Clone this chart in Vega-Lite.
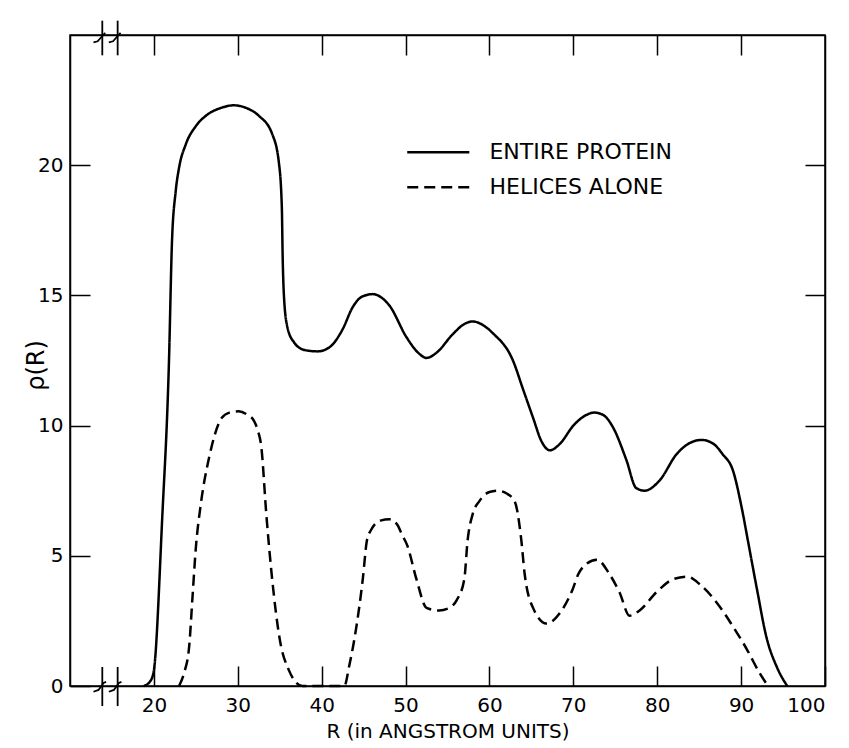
{
  "$schema": "https://vega.github.io/schema/vega-lite/v6.json",
  "width": 755,
  "height": 651,
  "autosize": {"type": "none"},
  "padding": {"left": 70, "top": 35, "right": 24, "bottom": 62},
  "background": "white",
  "config": {
    "view": {"stroke": "black", "strokeWidth": 1.5},
    "axis": {
      "grid": false,
      "domainColor": "black",
      "domainWidth": 1.5,
      "tickColor": "black",
      "tickWidth": 1.5,
      "labelColor": "black",
      "titleColor": "black",
      "labelFont": "DejaVu Sans",
      "titleFont": "DejaVu Sans",
      "titleFontWeight": "normal"
    }
  },
  "datasets": {
    "curves": [
      {"R": 18.8, "rho": 0, "series": "Entire protein"},
      {"R": 19.6, "rho": 0.2, "series": "Entire protein"},
      {"R": 20.0, "rho": 0.6, "series": "Entire protein"},
      {"R": 21.0, "rho": 6.5, "series": "Entire protein"},
      {"R": 21.8, "rho": 12.5, "series": "Entire protein"},
      {"R": 22.15, "rho": 17.0, "series": "Entire protein"},
      {"R": 22.6, "rho": 19.0, "series": "Entire protein"},
      {"R": 23.0, "rho": 19.9, "series": "Entire protein"},
      {"R": 23.8, "rho": 20.8, "series": "Entire protein"},
      {"R": 25.0, "rho": 21.5, "series": "Entire protein"},
      {"R": 26.2, "rho": 21.9, "series": "Entire protein"},
      {"R": 28.0, "rho": 22.2, "series": "Entire protein"},
      {"R": 29.5, "rho": 22.3, "series": "Entire protein"},
      {"R": 31.0, "rho": 22.2, "series": "Entire protein"},
      {"R": 32.5, "rho": 21.9, "series": "Entire protein"},
      {"R": 34.1, "rho": 21.2, "series": "Entire protein"},
      {"R": 34.9, "rho": 20.1, "series": "Entire protein"},
      {"R": 35.25, "rho": 18.4, "series": "Entire protein"},
      {"R": 35.35, "rho": 16.5, "series": "Entire protein"},
      {"R": 35.5, "rho": 15.0, "series": "Entire protein"},
      {"R": 35.9, "rho": 13.8, "series": "Entire protein"},
      {"R": 36.7, "rho": 13.2, "series": "Entire protein"},
      {"R": 38.0, "rho": 12.9, "series": "Entire protein"},
      {"R": 39.5, "rho": 12.85, "series": "Entire protein"},
      {"R": 40.9, "rho": 13.0, "series": "Entire protein"},
      {"R": 42.5, "rho": 13.7, "series": "Entire protein"},
      {"R": 43.7, "rho": 14.55, "series": "Entire protein"},
      {"R": 44.8, "rho": 14.95, "series": "Entire protein"},
      {"R": 46.1, "rho": 15.05, "series": "Entire protein"},
      {"R": 47.2, "rho": 14.9, "series": "Entire protein"},
      {"R": 48.1, "rho": 14.6, "series": "Entire protein"},
      {"R": 50.1, "rho": 13.4, "series": "Entire protein"},
      {"R": 51.5, "rho": 12.8, "series": "Entire protein"},
      {"R": 52.5, "rho": 12.6, "series": "Entire protein"},
      {"R": 53.7, "rho": 12.8, "series": "Entire protein"},
      {"R": 55.6, "rho": 13.5, "series": "Entire protein"},
      {"R": 57.0, "rho": 13.9, "series": "Entire protein"},
      {"R": 58.0, "rho": 14.0, "series": "Entire protein"},
      {"R": 59.5, "rho": 13.8, "series": "Entire protein"},
      {"R": 60.4, "rho": 13.55, "series": "Entire protein"},
      {"R": 62.8, "rho": 12.5, "series": "Entire protein"},
      {"R": 64.0, "rho": 11.4, "series": "Entire protein"},
      {"R": 65.2, "rho": 10.3, "series": "Entire protein"},
      {"R": 66.2, "rho": 9.4, "series": "Entire protein"},
      {"R": 67.2, "rho": 9.05, "series": "Entire protein"},
      {"R": 68.4, "rho": 9.3, "series": "Entire protein"},
      {"R": 70.0, "rho": 10.0, "series": "Entire protein"},
      {"R": 71.5, "rho": 10.4, "series": "Entire protein"},
      {"R": 72.5, "rho": 10.5, "series": "Entire protein"},
      {"R": 73.6, "rho": 10.4, "series": "Entire protein"},
      {"R": 74.7, "rho": 9.95, "series": "Entire protein"},
      {"R": 76.3, "rho": 8.7, "series": "Entire protein"},
      {"R": 77.5, "rho": 7.6, "series": "Entire protein"},
      {"R": 78.5, "rho": 7.5, "series": "Entire protein"},
      {"R": 80.3, "rho": 7.9, "series": "Entire protein"},
      {"R": 82.3, "rho": 8.9, "series": "Entire protein"},
      {"R": 84.0, "rho": 9.35, "series": "Entire protein"},
      {"R": 85.3, "rho": 9.45, "series": "Entire protein"},
      {"R": 86.7, "rho": 9.3, "series": "Entire protein"},
      {"R": 87.8, "rho": 8.9, "series": "Entire protein"},
      {"R": 89.0, "rho": 8.3, "series": "Entire protein"},
      {"R": 90.1, "rho": 6.8, "series": "Entire protein"},
      {"R": 90.8, "rho": 5.6, "series": "Entire protein"},
      {"R": 91.9, "rho": 3.7, "series": "Entire protein"},
      {"R": 93.0, "rho": 1.9, "series": "Entire protein"},
      {"R": 94.3, "rho": 0.7, "series": "Entire protein"},
      {"R": 95.5, "rho": 0, "series": "Entire protein"},
      {"R": 23.0, "rho": 0, "series": "Helices alone"},
      {"R": 23.6, "rho": 0.5, "series": "Helices alone"},
      {"R": 24.2, "rho": 1.5, "series": "Helices alone"},
      {"R": 24.6, "rho": 3.4, "series": "Helices alone"},
      {"R": 25.0, "rho": 5.3, "series": "Helices alone"},
      {"R": 25.6, "rho": 7.0, "series": "Helices alone"},
      {"R": 26.6, "rho": 8.8, "series": "Helices alone"},
      {"R": 28.1, "rho": 10.3, "series": "Helices alone"},
      {"R": 29.0, "rho": 10.5, "series": "Helices alone"},
      {"R": 30.1, "rho": 10.55, "series": "Helices alone"},
      {"R": 31.2, "rho": 10.4, "series": "Helices alone"},
      {"R": 31.9, "rho": 10.2, "series": "Helices alone"},
      {"R": 32.4, "rho": 9.8, "series": "Helices alone"},
      {"R": 32.8, "rho": 9.2, "series": "Helices alone"},
      {"R": 33.4, "rho": 6.6, "series": "Helices alone"},
      {"R": 34.1, "rho": 4.1, "series": "Helices alone"},
      {"R": 35.0, "rho": 1.8, "series": "Helices alone"},
      {"R": 36.1, "rho": 0.6, "series": "Helices alone"},
      {"R": 37.7, "rho": 0, "series": "Helices alone"},
      {"R": 42.7, "rho": 0, "series": "Helices alone"},
      {"R": 43.3, "rho": 0.8, "series": "Helices alone"},
      {"R": 43.9, "rho": 1.8, "series": "Helices alone"},
      {"R": 44.9, "rho": 4.1, "series": "Helices alone"},
      {"R": 45.4, "rho": 5.6, "series": "Helices alone"},
      {"R": 45.9, "rho": 6.0, "series": "Helices alone"},
      {"R": 47.0, "rho": 6.35, "series": "Helices alone"},
      {"R": 48.1, "rho": 6.4, "series": "Helices alone"},
      {"R": 49.0, "rho": 6.2, "series": "Helices alone"},
      {"R": 49.6, "rho": 5.8, "series": "Helices alone"},
      {"R": 50.2, "rho": 5.4, "series": "Helices alone"},
      {"R": 51.3, "rho": 4.1, "series": "Helices alone"},
      {"R": 52.5, "rho": 3.0, "series": "Helices alone"},
      {"R": 54.0, "rho": 2.9, "series": "Helices alone"},
      {"R": 55.2, "rho": 3.0, "series": "Helices alone"},
      {"R": 56.1, "rho": 3.3, "series": "Helices alone"},
      {"R": 57.0, "rho": 4.1, "series": "Helices alone"},
      {"R": 57.4, "rho": 5.6, "series": "Helices alone"},
      {"R": 58.0, "rho": 6.6, "series": "Helices alone"},
      {"R": 58.8, "rho": 7.1, "series": "Helices alone"},
      {"R": 60.0, "rho": 7.45, "series": "Helices alone"},
      {"R": 61.0, "rho": 7.5, "series": "Helices alone"},
      {"R": 62.0, "rho": 7.4, "series": "Helices alone"},
      {"R": 63.0, "rho": 7.1, "series": "Helices alone"},
      {"R": 63.8, "rho": 5.6, "series": "Helices alone"},
      {"R": 64.2, "rho": 4.3, "series": "Helices alone"},
      {"R": 65.2, "rho": 3.0, "series": "Helices alone"},
      {"R": 66.8, "rho": 2.4, "series": "Helices alone"},
      {"R": 68.4, "rho": 2.8, "series": "Helices alone"},
      {"R": 69.9, "rho": 3.7, "series": "Helices alone"},
      {"R": 70.6, "rho": 4.3, "series": "Helices alone"},
      {"R": 71.6, "rho": 4.7, "series": "Helices alone"},
      {"R": 72.8, "rho": 4.85, "series": "Helices alone"},
      {"R": 74.3, "rho": 4.3, "series": "Helices alone"},
      {"R": 75.5, "rho": 3.6, "series": "Helices alone"},
      {"R": 76.7, "rho": 2.7, "series": "Helices alone"},
      {"R": 77.9, "rho": 2.9, "series": "Helices alone"},
      {"R": 79.9, "rho": 3.6, "series": "Helices alone"},
      {"R": 81.9, "rho": 4.1, "series": "Helices alone"},
      {"R": 83.6, "rho": 4.2, "series": "Helices alone"},
      {"R": 85.1, "rho": 3.9, "series": "Helices alone"},
      {"R": 87.1, "rho": 3.2, "series": "Helices alone"},
      {"R": 89.0, "rho": 2.3, "series": "Helices alone"},
      {"R": 90.7, "rho": 1.4, "series": "Helices alone"},
      {"R": 92.2, "rho": 0.5, "series": "Helices alone"},
      {"R": 93.2, "rho": 0, "series": "Helices alone"}
    ],
    "breaks": [
      {"R": 13.85, "y1": -0.77, "y2": 0.73},
      {"R": 15.68, "y1": -0.77, "y2": 0.73},
      {"R": 13.85, "y1": 24.22, "y2": 25.55},
      {"R": 15.68, "y1": 24.22, "y2": 25.55}
    ],
    "zigzags": [
      {"g": "b1", "o": 1, "R": 12.8, "rho": -0.22},
      {"g": "b1", "o": 2, "R": 13.4, "rho": -0.15},
      {"g": "b1", "o": 3, "R": 14.0, "rho": 0.12},
      {"g": "b1", "o": 4, "R": 14.3, "rho": 0.16},
      {"g": "b2", "o": 1, "R": 14.63, "rho": -0.22},
      {"g": "b2", "o": 2, "R": 15.23, "rho": -0.15},
      {"g": "b2", "o": 3, "R": 15.83, "rho": 0.12},
      {"g": "b2", "o": 4, "R": 16.13, "rho": 0.16},
      {"g": "t1", "o": 1, "R": 12.8, "rho": 24.72},
      {"g": "t1", "o": 2, "R": 13.3, "rho": 24.76},
      {"g": "t1", "o": 3, "R": 13.9, "rho": 24.98},
      {"g": "t1", "o": 4, "R": 14.2, "rho": 25.08},
      {"g": "t2", "o": 1, "R": 14.63, "rho": 24.72},
      {"g": "t2", "o": 2, "R": 15.13, "rho": 24.76},
      {"g": "t2", "o": 3, "R": 15.73, "rho": 24.98},
      {"g": "t2", "o": 4, "R": 16.03, "rho": 25.08}
    ],
    "legendLines": [
      {"R": 50.2, "rho": 20.5, "series": "Entire protein"},
      {"R": 57.6, "rho": 20.5, "series": "Entire protein"},
      {"R": 50.2, "rho": 19.15, "series": "Helices alone"},
      {"R": 57.6, "rho": 19.15, "series": "Helices alone"}
    ],
    "legendText": [
      {"R": 60.0, "rho": 20.5, "label": "ENTIRE PROTEIN"},
      {"R": 60.0, "rho": 19.15, "label": "HELICES ALONE"}
    ]
  },
  "resolve": {"axis": {"x": "independent", "y": "independent"}},
  "layer": [
    {
      "data": {"name": "curves"},
      "mark": {"type": "line", "interpolate": "monotone", "strokeWidth": 2.5, "color": "black"},
      "encoding": {
        "x": {
          "field": "R", "type": "quantitative",
          "scale": {"domain": [10, 100], "nice": false, "zero": false},
          "axis": {
            "orient": "bottom",
            "values": [20, 30, 40, 50, 60, 70, 80, 90, 100],
            "tickSize": -20,
            "labelFontSize": 20,
            "labelPadding": 29,
            "title": "R (in ANGSTROM UNITS)",
            "titleFontSize": 20,
            "titlePadding": 6
          }
        },
        "y": {
          "field": "rho", "type": "quantitative",
          "scale": {"domain": [0, 25], "nice": false},
          "axis": {
            "orient": "left",
            "values": [0, 5, 10, 15, 20],
            "tickSize": -20,
            "labelFontSize": 20,
            "labelPadding": 27,
            "title": "ρ(R)",
            "titleFontSize": 24,
            "titleAngle": -90,
            "titleX": -34,
            "titleY": 330,
            "titleAlign": "center",
            "titleBaseline": "middle"
          }
        },
        "strokeDash": {
          "field": "series", "type": "nominal",
          "scale": {"domain": ["Entire protein", "Helices alone"], "range": [[1, 0], [11, 6]]},
          "legend": null
        },
        "detail": {"field": "series"}
      }
    },
    {
      "data": {"name": "breaks"},
      "mark": {"type": "rule", "strokeWidth": 1.8, "color": "black"},
      "encoding": {
        "x": {
          "field": "R", "type": "quantitative",
          "scale": {"domain": [10, 100], "nice": false, "zero": false},
          "axis": {
            "orient": "top",
            "values": [20, 30, 40, 50, 60, 70, 80, 90],
            "tickSize": -20,
            "labels": false,
            "title": null
          }
        },
        "y": {
          "field": "y1", "type": "quantitative",
          "scale": {"domain": [0, 25], "nice": false},
          "axis": {
            "orient": "right",
            "values": [5, 10, 15, 20],
            "tickSize": -20,
            "labels": false,
            "title": null
          }
        },
        "y2": {"field": "y2"}
      }
    },
    {
      "data": {"name": "zigzags"},
      "mark": {"type": "line", "strokeWidth": 1.8, "color": "black"},
      "encoding": {
        "x": {"field": "R", "type": "quantitative", "scale": {"domain": [10, 100], "nice": false, "zero": false}, "axis": null},
        "y": {"field": "rho", "type": "quantitative", "scale": {"domain": [0, 25], "nice": false}, "axis": null},
        "order": {"field": "o"},
        "detail": {"field": "g"}
      }
    },
    {
      "data": {"name": "legendLines"},
      "mark": {"type": "line", "strokeWidth": 2.5, "color": "black"},
      "encoding": {
        "x": {"field": "R", "type": "quantitative", "scale": {"domain": [10, 100], "nice": false, "zero": false}, "axis": null},
        "y": {"field": "rho", "type": "quantitative", "scale": {"domain": [0, 25], "nice": false}, "axis": null},
        "strokeDash": {
          "field": "series", "type": "nominal",
          "scale": {"domain": ["Entire protein", "Helices alone"], "range": [[1, 0], [11, 6]]},
          "legend": null
        },
        "detail": {"field": "series"}
      }
    },
    {
      "data": {"name": "legendText"},
      "mark": {"type": "text", "align": "left", "baseline": "middle", "fontSize": 22, "font": "DejaVu Sans", "color": "black"},
      "encoding": {
        "x": {"field": "R", "type": "quantitative", "scale": {"domain": [10, 100], "nice": false, "zero": false}, "axis": null},
        "y": {"field": "rho", "type": "quantitative", "scale": {"domain": [0, 25], "nice": false}, "axis": null},
        "text": {"field": "label"}
      }
    }
  ]
}
